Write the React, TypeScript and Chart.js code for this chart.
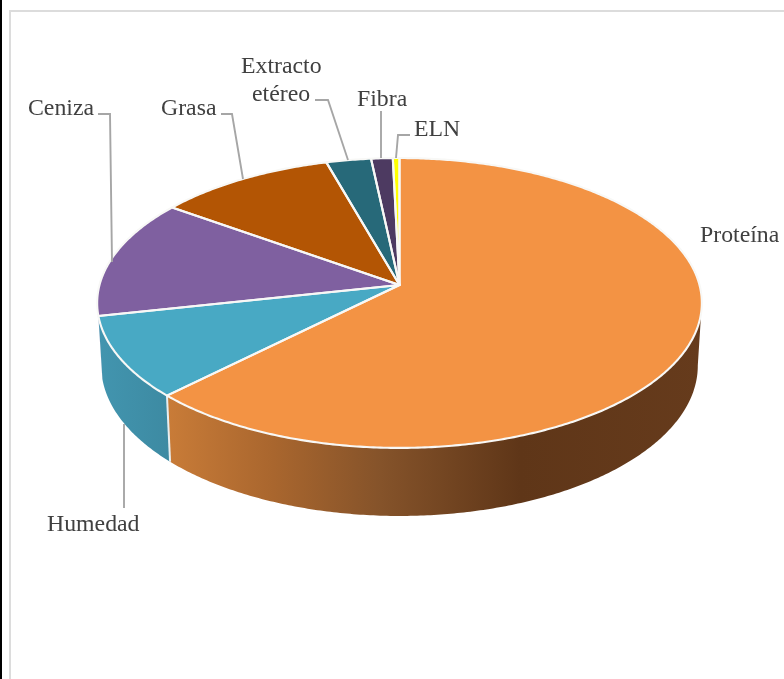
import React, { useEffect, useRef } from "react";
import { Chart, registerables } from "chart.js";

Chart.register(...registerables);

const categories = ["Proteína", "Humedad", "Ceniza", "Grasa", "Extracto etéreo", "Fibra", "ELN"];
const values = [62.5, 9.1, 13.3, 10.7, 2.7, 1.3, 0.4];
const colors = ["#F39344", "#48A9C4", "#7F60A0", "#B35504", "#276979", "#4D3A61", "#FFFF00"];

// Perspective applied to the pie's flat angles
const TOP = { cx: 399.5, cy: 285, sx: 300, sy: 142.7, k: 0.124 };
const BOTTOM = { cx: 399.5, cy: 347, sx: 296, sy: 148, k: 0.124 };
const FRONT_START = (7 * Math.PI) / 180;
const FRONT_END = (168 * Math.PI) / 180;

const wallStops: Record<number, { x0: number; x1: number; stops: [number, string][] }> = {
  0: {
    x0: 166,
    x1: 702,
    stops: [
      [0, "#C97C38"],
      [0.2, "#A9662E"],
      [0.4, "#85532A"],
      [0.66, "#5F3618"],
      [1, "#663B1C"],
    ],
  },
  1: {
    x0: 98,
    x1: 170,
    stops: [
      [0, "#4295AF"],
      [1, "#3D8AA2"],
    ],
  },
};

const labelFont = '23.8px "Liberation Serif", "Times New Roman", serif';
const labelColor = "#404040";
const leaderColor = "#A6A6A6";
const labelPlacement = [
  { lines: [{ text: categories[0], x: 700, y: 241.5 }], leader: [] as number[][] },
  { lines: [{ text: categories[1], x: 47, y: 531 }], leader: [[124, 424], [124, 508]] },
  { lines: [{ text: categories[2], x: 28, y: 115 }], leader: [[98, 114], [110, 114], [112, 262]] },
  { lines: [{ text: categories[3], x: 161, y: 115 }], leader: [[221, 114], [232, 114], [243, 179]] },
  {
    lines: [
      { text: "Extracto", x: 241, y: 73 },
      { text: "etéreo", x: 252, y: 100.5 },
    ],
    leader: [[315, 100], [328, 100], [348, 160]],
  },
  { lines: [{ text: categories[5], x: 357, y: 105.5 }], leader: [[381, 111], [381, 158]] },
  { lines: [{ text: categories[6], x: 414, y: 136 }], leader: [[410, 135], [398, 135], [396, 158]] },
];

type Proj = typeof TOP;
const project = (p: Proj, a: number): [number, number] => {
  const w = 1 - p.k * Math.sin(a);
  return [p.cx + (p.sx * Math.cos(a)) / w, p.cy + (p.sy * Math.sin(a)) / w];
};

const rimPoints = (p: Proj, a0: number, a1: number) => {
  const n = Math.max(2, Math.ceil(Math.abs(a1 - a0) / 0.01));
  const pts: [number, number][] = [];
  for (let i = 0; i <= n; i++) pts.push(project(p, a0 + ((a1 - a0) * i) / n));
  return pts;
};

const pie3d = {
  id: "pie3d",
  beforeDatasetDraw(chart: any) {
    const ctx: CanvasRenderingContext2D = chart.ctx;
    const arcs: any[] = chart.getDatasetMeta(0).data;
    ctx.save();
    ctx.lineJoin = "round";

    // Outer walls
    arcs.forEach((arc, i) => {
      const a0 = Math.max(arc.startAngle, FRONT_START);
      const a1 = Math.min(arc.endAngle, FRONT_END);
      if (a1 <= a0) return;
      const pts = [...rimPoints(TOP, a0, a1), ...rimPoints(BOTTOM, a1, a0)];
      ctx.beginPath();
      pts.forEach(([x, y], j) => (j ? ctx.lineTo(x, y) : ctx.moveTo(x, y)));
      ctx.closePath();
      const def = wallStops[i];
      if (def) {
        const g = ctx.createLinearGradient(def.x0, 0, def.x1, 0);
        def.stops.forEach(([o, c]) => g.addColorStop(o, c));
        ctx.fillStyle = g;
      } else {
        ctx.fillStyle = colors[i];
      }
      ctx.fill();
    });

    // White seam between the two visible walls
    const seam = arcs[0].endAngle;
    const [sx0, sy0] = project(TOP, seam);
    const [sx1, sy1] = project(BOTTOM, seam);
    ctx.beginPath();
    ctx.moveTo(sx0, sy0);
    ctx.lineTo(sx1, sy1);
    ctx.strokeStyle = "#E8EEF0";
    ctx.lineWidth = 2;
    ctx.stroke();

    // Top faces
    arcs.forEach((arc, i) => {
      const pts = rimPoints(TOP, arc.startAngle, arc.endAngle);
      ctx.beginPath();
      ctx.moveTo(TOP.cx, TOP.cy);
      pts.forEach(([x, y]) => ctx.lineTo(x, y));
      ctx.closePath();
      ctx.fillStyle = colors[i];
      ctx.fill();
    });
    arcs.forEach((arc) => {
      const pts = rimPoints(TOP, arc.startAngle, arc.endAngle);
      ctx.beginPath();
      ctx.moveTo(TOP.cx, TOP.cy);
      pts.forEach(([x, y]) => ctx.lineTo(x, y));
      ctx.closePath();
      ctx.strokeStyle = "#F8F8F6";
      ctx.lineWidth = 2.1;
      ctx.stroke();
    });
    ctx.restore();
    return false;
  },
  afterDatasetsDraw(chart: any) {
    const ctx: CanvasRenderingContext2D = chart.ctx;
    ctx.save();
    ctx.strokeStyle = leaderColor;
    ctx.lineWidth = 1.9;
    ctx.fillStyle = labelColor;
    ctx.font = labelFont;
    ctx.textAlign = "left";
    ctx.textBaseline = "alphabetic";
    labelPlacement.forEach(({ lines, leader }) => {
      if (leader.length) {
        ctx.beginPath();
        leader.forEach(([x, y], j) => (j ? ctx.lineTo(x, y) : ctx.moveTo(x, y)));
        ctx.stroke();
      }
      lines.forEach((l) => ctx.fillText(l.text, l.x, l.y));
    });
    ctx.restore();
  },
};

export default function App() {
  const ref = useRef<HTMLCanvasElement>(null);
  useEffect(() => {
    const chart = new Chart(ref.current!, {
      type: "pie",
      data: {
        labels: categories,
        datasets: [{ data: values, backgroundColor: colors, borderColor: "#F8F8F6", borderWidth: 2 }],
      },
      options: {
        animation: false,
        responsive: false,
        devicePixelRatio: 1,
        plugins: { legend: { display: false }, tooltip: { enabled: false } },
      },
      plugins: [pie3d as any],
    });
    return () => chart.destroy();
  }, []);
  return (
    <div style={{ position: "fixed", left: 0, top: 0, width: 784, height: 679, overflow: "hidden", background: "#fff" }}>
      <div style={{ position: "absolute", left: 0, top: 0, width: 2, height: 679, background: "#000" }} />
      <div
        style={{
          position: "absolute",
          left: 9,
          top: 10,
          width: 800,
          height: 800,
          borderLeft: "2px solid #DCDCDC",
          borderTop: "2px solid #DCDCDC",
        }}
      />
      <canvas ref={ref} width={784} height={679} style={{ position: "absolute", left: 0, top: 0, display: "block" }} />
    </div>
  );
}
